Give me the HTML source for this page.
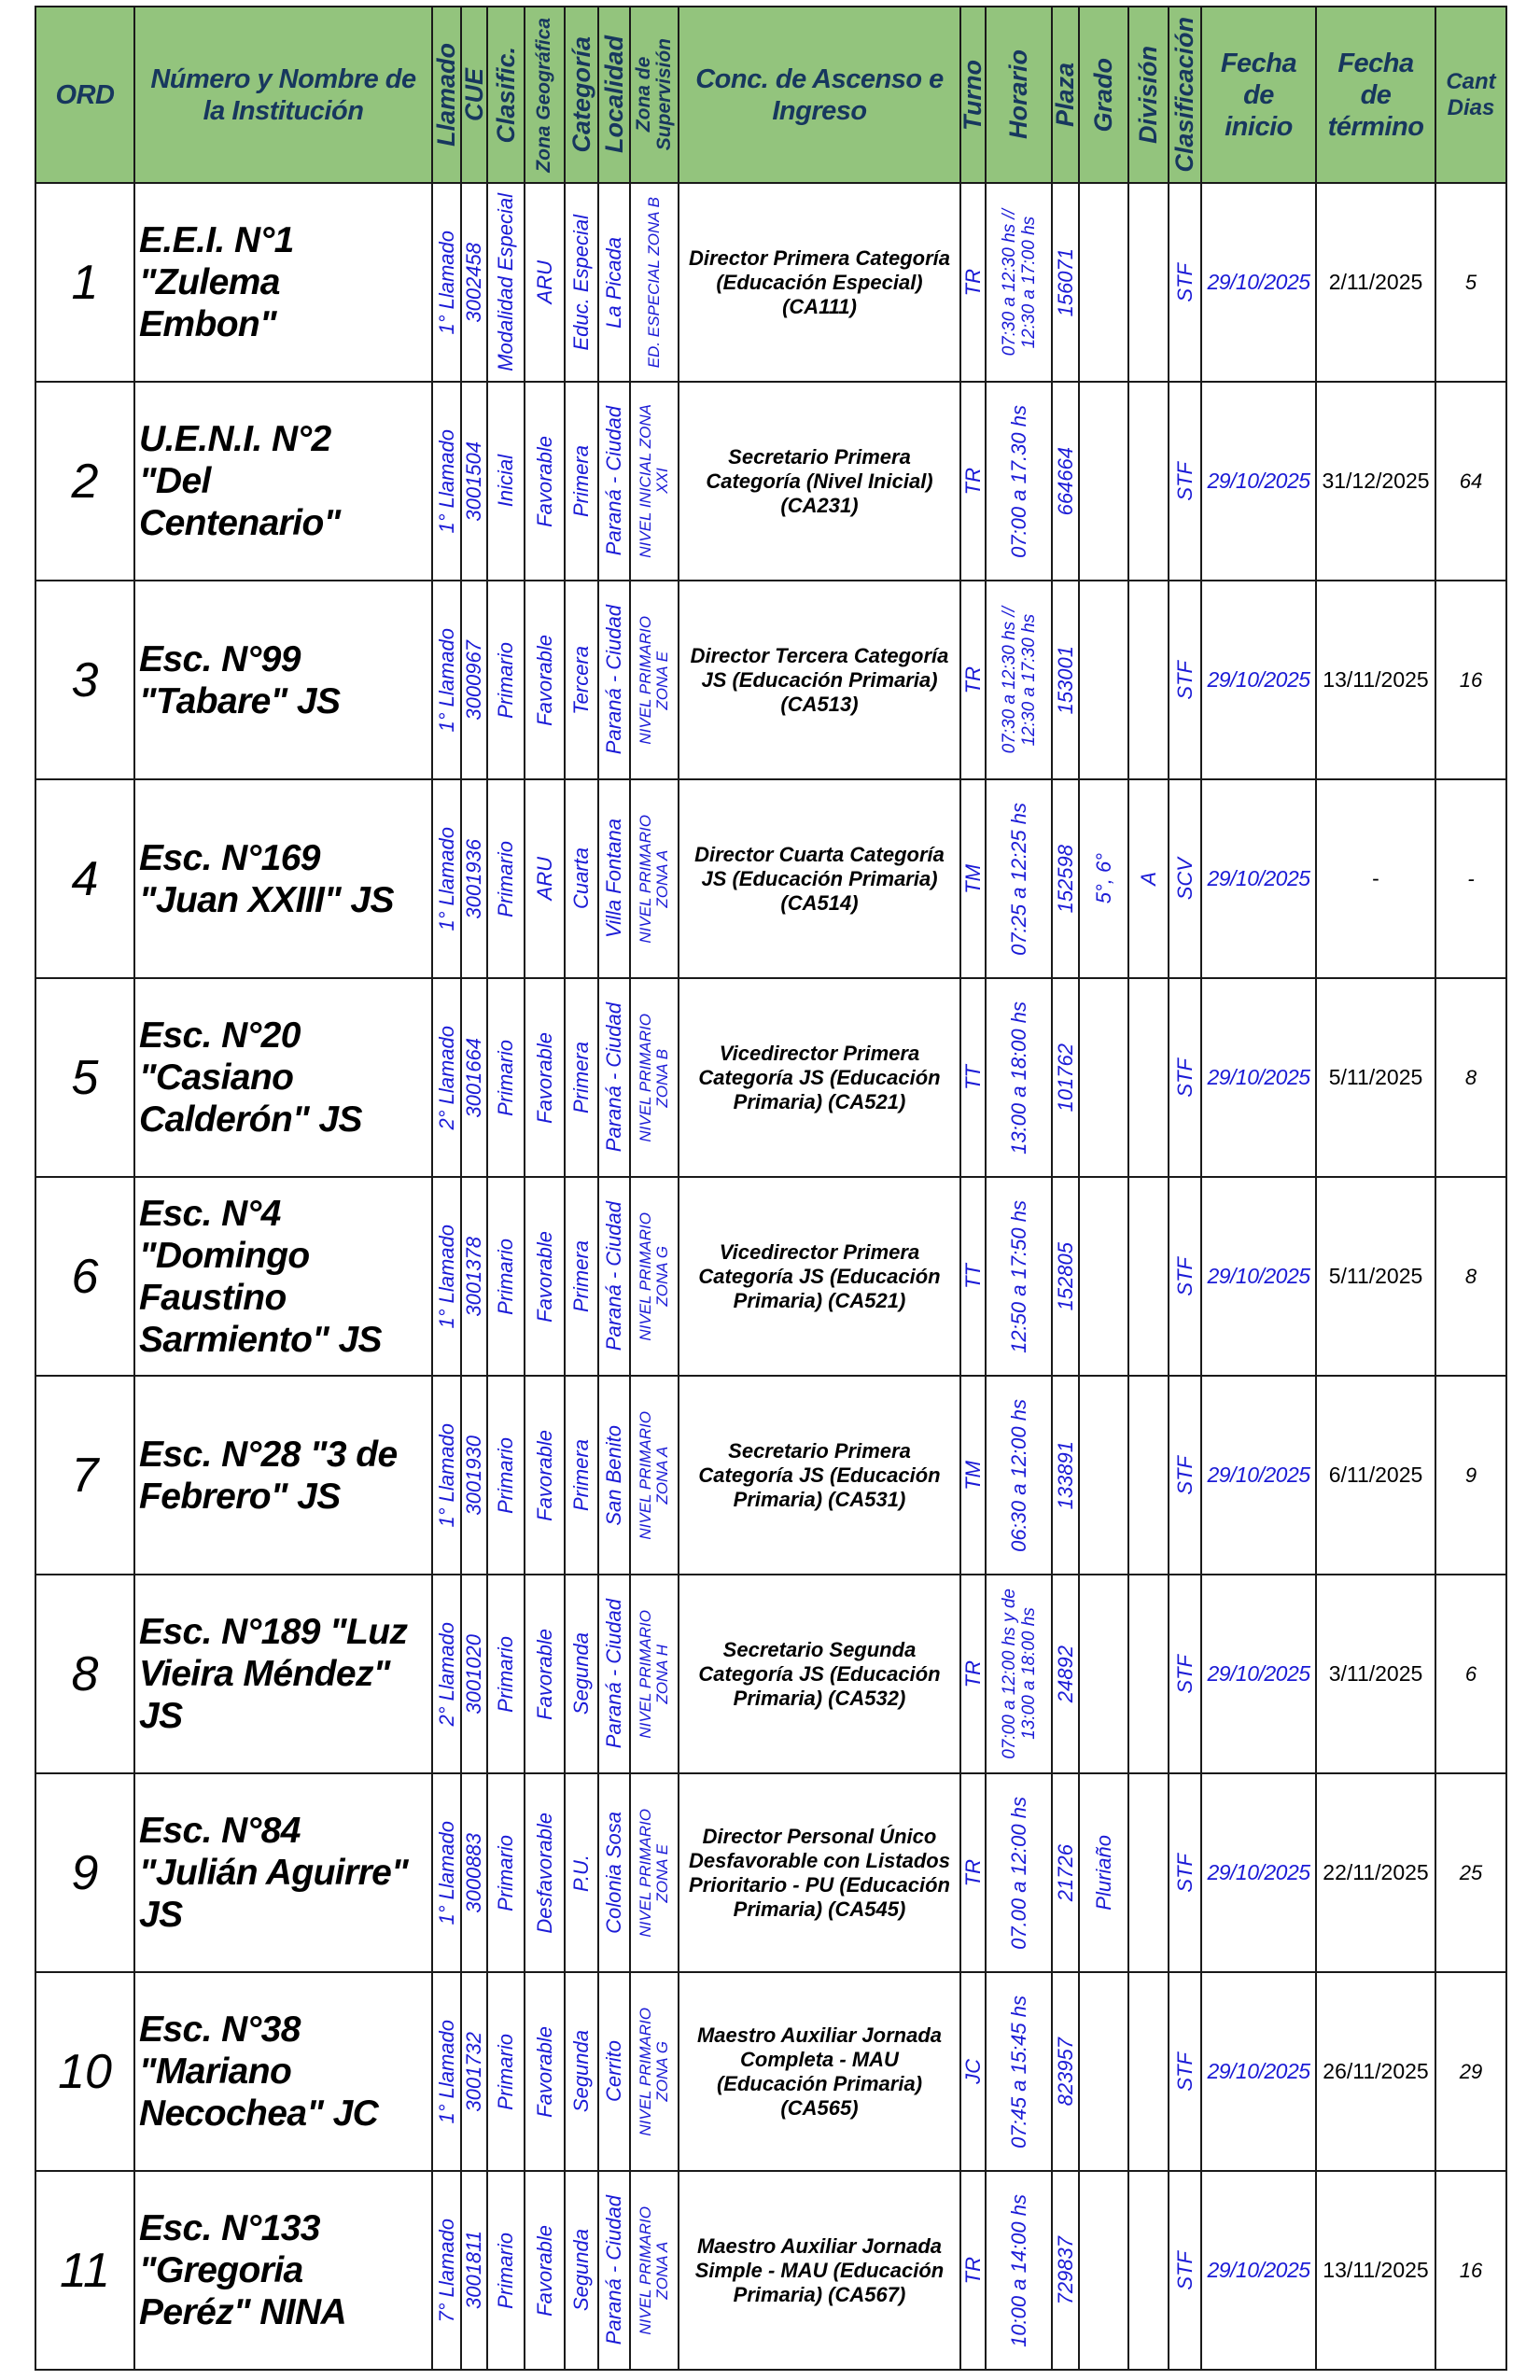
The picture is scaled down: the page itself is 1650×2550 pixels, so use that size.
<!DOCTYPE html>
<html><head><meta charset="utf-8">
<style>
html,body{margin:0;padding:0;background:#fff;width:1650px;height:2550px;overflow:hidden}
table{position:absolute;left:37px;top:6px;border-collapse:collapse;table-layout:fixed;width:1576px}
td{border:2px solid #1a1a1a;padding:0;text-align:center;vertical-align:middle;overflow:hidden;font-family:"Liberation Sans",Arial,sans-serif}
tr.h td{background:#93c47d;height:187px;color:#17375e;font-weight:bold;font-style:italic}
tr.r td{height:211px}
.n{font-family:"Liberation Sans Narrow","Liberation Sans",sans-serif}
.hh{font-size:29px;line-height:34px;letter-spacing:-0.5px}
.v{display:flex;justify-content:center;align-items:center;height:100%}
.v span{writing-mode:vertical-rl;transform:rotate(180deg);white-space:nowrap;line-height:1.05}
.vh span{font-size:27px}
.vs span{font-size:21px}
.d .v span{color:#1a1ad6;font-style:italic;font-size:22px}
.d .z span{font-size:17px;line-height:18px;text-align:center}
.ord{font-size:52px;font-style:italic;color:#000}
.nm{font-family:"Liberation Sans Narrow","Liberation Sans",sans-serif;font-weight:bold;font-style:italic;font-size:39px;letter-spacing:-0.6px;line-height:45px;text-align:left;padding-left:4px;color:#000;white-space:nowrap}
.cc{font-family:"Liberation Sans Narrow","Liberation Sans",sans-serif;font-weight:bold;font-style:italic;font-size:22px;line-height:26px;color:#000}
.fi{font-family:"Liberation Sans Narrow","Liberation Sans",sans-serif;font-style:italic;font-size:23px;letter-spacing:-0.5px;color:#1a1ad6}
.ft{font-family:"Liberation Sans Narrow","Liberation Sans",sans-serif;font-size:23px;color:#000}
.cd{font-style:italic;font-size:22px;color:#000}
</style></head><body>
<table>
<colgroup>
<col style="width:106px"><col style="width:319px"><col style="width:31px"><col style="width:28px"><col style="width:40px"><col style="width:43px"><col style="width:36px"><col style="width:34px"><col style="width:52px"><col style="width:302px"><col style="width:27px"><col style="width:71px"><col style="width:29px"><col style="width:53px"><col style="width:43px"><col style="width:35px"><col style="width:123px"><col style="width:128px"><col style="width:76px">
</colgroup>
<tr class="h">
<td class="n hh">ORD</td>
<td class="n hh">Número y Nombre de<br>la Institución</td>
<td><div class="v vh"><span>Llamado</span></div></td>
<td><div class="v vh"><span>CUE</span></div></td>
<td><div class="v vh"><span>Clasific.</span></div></td>
<td><div class="v vs"><span>Zona Geográfica</span></div></td>
<td><div class="v vh"><span>Categoría</span></div></td>
<td><div class="v vh"><span>Localidad</span></div></td>
<td><div class="v vs"><span style="text-align:center">Zona de<br>Supervisión</span></div></td>
<td class="n hh">Conc. de Ascenso e<br>Ingreso</td>
<td><div class="v vh"><span>Turno</span></div></td>
<td><div class="v vh"><span>Horario</span></div></td>
<td><div class="v vh"><span>Plaza</span></div></td>
<td><div class="v vh"><span>Grado</span></div></td>
<td><div class="v vh"><span>División</span></div></td>
<td><div class="v vh"><span>Clasificación</span></div></td>
<td class="n hh">Fecha<br>de<br>inicio</td>
<td class="n hh">Fecha<br>de<br>término</td>
<td class="n" style="font-size:24px;line-height:28px">Cant<br>Dias</td>
</tr>
<tr class="r d"><td class="ord">1</td><td class="nm">E.E.I. N°1<br>"Zulema<br>Embon"</td><td><div class="v"><span>1° Llamado</span></div></td><td><div class="v"><span>3002458</span></div></td><td><div class="v"><span>Modalidad Especial</span></div></td><td><div class="v"><span>ARU</span></div></td><td><div class="v"><span>Educ. Especial</span></div></td><td><div class="v"><span>La Picada</span></div></td><td><div class="v z"><span>ED. ESPECIAL ZONA B</span></div></td><td class="cc">Director Primera Categoría<br>(Educación Especial)<br>(CA111)</td><td><div class="v"><span>TR</span></div></td><td><div class="v z"><span style="font-size:19px;line-height:21px">07:30 a 12:30 hs //<br>12:30 a 17:00 hs</span></div></td><td><div class="v"><span>156071</span></div></td><td></td><td></td><td><div class="v"><span>STF</span></div></td><td class="fi">29/10/2025</td><td class="ft">2/11/2025</td><td class="cd">5</td></tr>
<tr class="r d"><td class="ord">2</td><td class="nm">U.E.N.I. N°2<br>"Del<br>Centenario"</td><td><div class="v"><span>1° Llamado</span></div></td><td><div class="v"><span>3001504</span></div></td><td><div class="v"><span>Inicial</span></div></td><td><div class="v"><span>Favorable</span></div></td><td><div class="v"><span>Primera</span></div></td><td><div class="v"><span>Paraná - Ciudad</span></div></td><td><div class="v z"><span>NIVEL INICIAL ZONA<br>XXI</span></div></td><td class="cc">Secretario Primera<br>Categoría (Nivel Inicial)<br>(CA231)</td><td><div class="v"><span>TR</span></div></td><td><div class="v"><span>07:00 a 17.30 hs</span></div></td><td><div class="v"><span>664664</span></div></td><td></td><td></td><td><div class="v"><span>STF</span></div></td><td class="fi">29/10/2025</td><td class="ft">31/12/2025</td><td class="cd">64</td></tr>
<tr class="r d"><td class="ord">3</td><td class="nm">Esc. N°99<br>"Tabare" JS</td><td><div class="v"><span>1° Llamado</span></div></td><td><div class="v"><span>3000967</span></div></td><td><div class="v"><span>Primario</span></div></td><td><div class="v"><span>Favorable</span></div></td><td><div class="v"><span>Tercera</span></div></td><td><div class="v"><span>Paraná - Ciudad</span></div></td><td><div class="v z"><span>NIVEL PRIMARIO<br>ZONA E</span></div></td><td class="cc">Director Tercera Categoría<br>JS (Educación Primaria)<br>(CA513)</td><td><div class="v"><span>TR</span></div></td><td><div class="v z"><span style="font-size:19px;line-height:21px">07:30 a 12:30 hs //<br>12:30 a 17:30 hs</span></div></td><td><div class="v"><span>153001</span></div></td><td></td><td></td><td><div class="v"><span>STF</span></div></td><td class="fi">29/10/2025</td><td class="ft">13/11/2025</td><td class="cd">16</td></tr>
<tr class="r d"><td class="ord">4</td><td class="nm">Esc. N°169<br>"Juan XXIII" JS</td><td><div class="v"><span>1° Llamado</span></div></td><td><div class="v"><span>3001936</span></div></td><td><div class="v"><span>Primario</span></div></td><td><div class="v"><span>ARU</span></div></td><td><div class="v"><span>Cuarta</span></div></td><td><div class="v"><span>Villa Fontana</span></div></td><td><div class="v z"><span>NIVEL PRIMARIO<br>ZONA A</span></div></td><td class="cc">Director Cuarta Categoría<br>JS (Educación Primaria)<br>(CA514)</td><td><div class="v"><span>TM</span></div></td><td><div class="v"><span>07:25 a 12:25 hs</span></div></td><td><div class="v"><span>152598</span></div></td><td><div class="v"><span>5°, 6°</span></div></td><td><div class="v"><span>A</span></div></td><td><div class="v"><span>SCV</span></div></td><td class="fi">29/10/2025</td><td class="ft">-</td><td class="cd">-</td></tr>
<tr class="r d"><td class="ord">5</td><td class="nm">Esc. N°20<br>"Casiano<br>Calderón" JS</td><td><div class="v"><span>2° Llamado</span></div></td><td><div class="v"><span>3001664</span></div></td><td><div class="v"><span>Primario</span></div></td><td><div class="v"><span>Favorable</span></div></td><td><div class="v"><span>Primera</span></div></td><td><div class="v"><span>Paraná - Ciudad</span></div></td><td><div class="v z"><span>NIVEL PRIMARIO<br>ZONA B</span></div></td><td class="cc">Vicedirector Primera<br>Categoría JS (Educación<br>Primaria) (CA521)</td><td><div class="v"><span>TT</span></div></td><td><div class="v"><span>13:00 a 18:00 hs</span></div></td><td><div class="v"><span>101762</span></div></td><td></td><td></td><td><div class="v"><span>STF</span></div></td><td class="fi">29/10/2025</td><td class="ft">5/11/2025</td><td class="cd">8</td></tr>
<tr class="r d"><td class="ord">6</td><td class="nm">Esc. N°4<br>"Domingo<br>Faustino<br>Sarmiento" JS</td><td><div class="v"><span>1° Llamado</span></div></td><td><div class="v"><span>3001378</span></div></td><td><div class="v"><span>Primario</span></div></td><td><div class="v"><span>Favorable</span></div></td><td><div class="v"><span>Primera</span></div></td><td><div class="v"><span>Paraná - Ciudad</span></div></td><td><div class="v z"><span>NIVEL PRIMARIO<br>ZONA G</span></div></td><td class="cc">Vicedirector Primera<br>Categoría JS (Educación<br>Primaria) (CA521)</td><td><div class="v"><span>TT</span></div></td><td><div class="v"><span>12:50 a 17:50 hs</span></div></td><td><div class="v"><span>152805</span></div></td><td></td><td></td><td><div class="v"><span>STF</span></div></td><td class="fi">29/10/2025</td><td class="ft">5/11/2025</td><td class="cd">8</td></tr>
<tr class="r d"><td class="ord">7</td><td class="nm">Esc. N°28 "3 de<br>Febrero" JS</td><td><div class="v"><span>1° Llamado</span></div></td><td><div class="v"><span>3001930</span></div></td><td><div class="v"><span>Primario</span></div></td><td><div class="v"><span>Favorable</span></div></td><td><div class="v"><span>Primera</span></div></td><td><div class="v"><span>San Benito</span></div></td><td><div class="v z"><span>NIVEL PRIMARIO<br>ZONA A</span></div></td><td class="cc">Secretario Primera<br>Categoría JS (Educación<br>Primaria) (CA531)</td><td><div class="v"><span>TM</span></div></td><td><div class="v"><span>06:30 a 12:00 hs</span></div></td><td><div class="v"><span>133891</span></div></td><td></td><td></td><td><div class="v"><span>STF</span></div></td><td class="fi">29/10/2025</td><td class="ft">6/11/2025</td><td class="cd">9</td></tr>
<tr class="r d"><td class="ord">8</td><td class="nm">Esc. N°189 "Luz<br>Vieira Méndez"<br>JS</td><td><div class="v"><span>2° Llamado</span></div></td><td><div class="v"><span>3001020</span></div></td><td><div class="v"><span>Primario</span></div></td><td><div class="v"><span>Favorable</span></div></td><td><div class="v"><span>Segunda</span></div></td><td><div class="v"><span>Paraná - Ciudad</span></div></td><td><div class="v z"><span>NIVEL PRIMARIO<br>ZONA H</span></div></td><td class="cc">Secretario Segunda<br>Categoría JS (Educación<br>Primaria) (CA532)</td><td><div class="v"><span>TR</span></div></td><td><div class="v z"><span style="font-size:19px;line-height:21px">07:00 a 12:00 hs y de<br>13:00 a 18:00 hs</span></div></td><td><div class="v"><span>24892</span></div></td><td></td><td></td><td><div class="v"><span>STF</span></div></td><td class="fi">29/10/2025</td><td class="ft">3/11/2025</td><td class="cd">6</td></tr>
<tr class="r d"><td class="ord">9</td><td class="nm">Esc. N°84<br>"Julián Aguirre"<br>JS</td><td><div class="v"><span>1° Llamado</span></div></td><td><div class="v"><span>3000883</span></div></td><td><div class="v"><span>Primario</span></div></td><td><div class="v"><span>Desfavorable</span></div></td><td><div class="v"><span>P.U.</span></div></td><td><div class="v"><span>Colonia Sosa</span></div></td><td><div class="v z"><span>NIVEL PRIMARIO<br>ZONA E</span></div></td><td class="cc">Director Personal Único<br>Desfavorable con Listados<br>Prioritario - PU (Educación<br>Primaria) (CA545)</td><td><div class="v"><span>TR</span></div></td><td><div class="v"><span>07.00 a 12:00 hs</span></div></td><td><div class="v"><span>21726</span></div></td><td><div class="v"><span>Pluriaño</span></div></td><td></td><td><div class="v"><span>STF</span></div></td><td class="fi">29/10/2025</td><td class="ft">22/11/2025</td><td class="cd">25</td></tr>
<tr class="r d"><td class="ord">10</td><td class="nm">Esc. N°38<br>"Mariano<br>Necochea" JC</td><td><div class="v"><span>1° Llamado</span></div></td><td><div class="v"><span>3001732</span></div></td><td><div class="v"><span>Primario</span></div></td><td><div class="v"><span>Favorable</span></div></td><td><div class="v"><span>Segunda</span></div></td><td><div class="v"><span>Cerrito</span></div></td><td><div class="v z"><span>NIVEL PRIMARIO<br>ZONA G</span></div></td><td class="cc">Maestro Auxiliar Jornada<br>Completa - MAU<br>(Educación Primaria)<br>(CA565)</td><td><div class="v"><span>JC</span></div></td><td><div class="v"><span>07:45 a 15:45 hs</span></div></td><td><div class="v"><span>823957</span></div></td><td></td><td></td><td><div class="v"><span>STF</span></div></td><td class="fi">29/10/2025</td><td class="ft">26/11/2025</td><td class="cd">29</td></tr>
<tr class="r d"><td class="ord">11</td><td class="nm">Esc. N°133<br>"Gregoria<br>Peréz" NINA</td><td><div class="v"><span>7° Llamado</span></div></td><td><div class="v"><span>3001811</span></div></td><td><div class="v"><span>Primario</span></div></td><td><div class="v"><span>Favorable</span></div></td><td><div class="v"><span>Segunda</span></div></td><td><div class="v"><span>Paraná - Ciudad</span></div></td><td><div class="v z"><span>NIVEL PRIMARIO<br>ZONA A</span></div></td><td class="cc">Maestro Auxiliar Jornada<br>Simple - MAU (Educación<br>Primaria) (CA567)</td><td><div class="v"><span>TR</span></div></td><td><div class="v"><span>10:00 a 14:00 hs</span></div></td><td><div class="v"><span>729837</span></div></td><td></td><td></td><td><div class="v"><span>STF</span></div></td><td class="fi">29/10/2025</td><td class="ft">13/11/2025</td><td class="cd">16</td></tr>
</table>
</body></html>
